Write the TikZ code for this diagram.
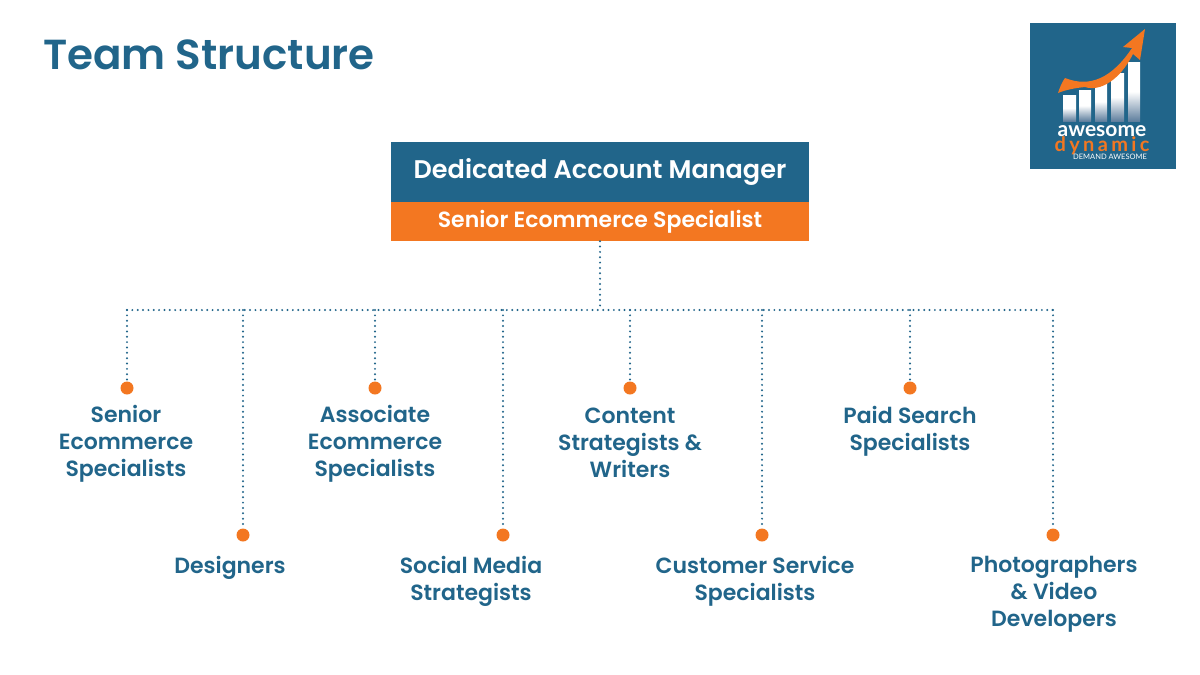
\documentclass[tikz,border=0pt]{standalone}
\usepackage{fontspec}
\setmainfont{Poppins}[BoldFont={Poppins SemiBold}]
\newfontfamily\logofont{Lato}
\definecolor{teal}{HTML}{21658A}
\definecolor{orng}{HTML}{F37721}
\definecolor{barshade}{HTML}{5F7F9E}
\usetikzlibrary{calc}
\tikzset{
  x=1pt,y=-1pt,
  conn/.style={draw=teal,line width=2.2pt,line cap=round,dash pattern=on 0pt off 5.35pt},
  dotnode/.style={circle,fill=orng,minimum size=13pt,inner sep=0pt},
  role/.style={text=teal,font=\fontsize{22}{27}\selectfont\bfseries,align=center,inner sep=0pt,anchor=center},
  bar/.style={left color=barshade,right color=white,middle color=white,shading angle=90},
}
\begin{document}
\begin{tikzpicture}
\useasboundingbox (0,0) rectangle (1200,675);
\fill[white] (0,0) rectangle (1200,675);
\node[text=teal,font=\fontsize{42}{48}\selectfont\bfseries,anchor=center,inner sep=0pt] (title) at (209,55) {Team Structure};
% header
\node[fill=teal,minimum width=418pt,minimum height=60pt,inner sep=0pt,text=white,font=\fontsize{25.5}{30}\selectfont\bfseries] (mgr) at (600,172) {Dedicated Account Manager};
\node[fill=orng,minimum width=418pt,minimum height=39pt,inner sep=0pt,text=white,font=\fontsize{22}{26}\selectfont\bfseries] (sen) at (600,221.5) {Senior Ecommerce Specialist};
% junctions
\coordinate (busL) at (127,310);
\coordinate (busR) at (1053,310);
\coordinate (trunk) at (600,310);
\foreach \n/\x/\y in {a/127/388,b/243/535,c/375/388,d/503/535,e/630/388,f/762/535,g/910/388,h/1053/535}{
  \node[dotnode] (\n) at (\x,\y) {};
  \coordinate (j\n) at (\x,310);
}
\draw[conn] (sen.south -| trunk) -- (trunk);
\draw[conn] (busL) -- (busR);
\foreach \n in {a,b,c,d,e,f,g,h}{ \draw[conn] (j\n) -- (\n); }
% labels
\node[role] (la) at (126,444) {Senior\\Ecommerce\\Specialists};
\node[role] (lb) at (230,568) {Designers};
\node[role] (lc) at (375,444) {Associate\\Ecommerce\\Specialists};
\node[role] (ld) at (471,581.5) {Social Media\\Strategists};
\node[role] (le) at (630,443) {Content\\Strategists \&\\Writers};
\node[role] (lf) at (755,581.5) {Customer Service\\Specialists};
\node[role] (lg) at (910,431) {Paid Search\\Specialists};
\node[role] (lh) at (1054,594) {Photographers\\\& Video\\Developers};
% logo
\fill[teal] (1030,23) rectangle (1176,169);
\foreach \xa/\xb/\yt in {1063/1076/95,1079/1091/90,1095/1107/82,1111/1124/73,1128/1140/62}{
  \shade[left color=white,right color=barshade,shading angle=0,middle color=white] (\xa,\yt) rectangle (\xb,121);
}
\fill[orng] (1058,93) .. controls (1060,87) and (1062,82) .. (1065,78)
  .. controls (1090,88) and (1112,78) .. (1132,48)
  -- (1123,47) -- (1145,29) -- (1140,60) -- (1133,54)
  .. controls (1120,80) and (1100,92) .. (1085,87)
  .. controls (1075,88) and (1065,90) .. (1058,93) -- cycle;
\node[text=white,font=\logofont\bfseries\fontsize{21}{22}\selectfont,inner sep=0pt] (lg1) at (1102,131) {awesome};
\node[text=orng,font=\logofont\bfseries\fontsize{20}{22}\selectfont,inner sep=0pt] (lg2) at (1102,146) {d\,y\,n\,a\,m\,i\,c};
\node[text=white,font=\logofont\fontsize{7.5}{8}\selectfont,inner sep=0pt] (lg3) at (1110,156.5) {DEMAND AWESOME};
\end{tikzpicture}
\end{document}
